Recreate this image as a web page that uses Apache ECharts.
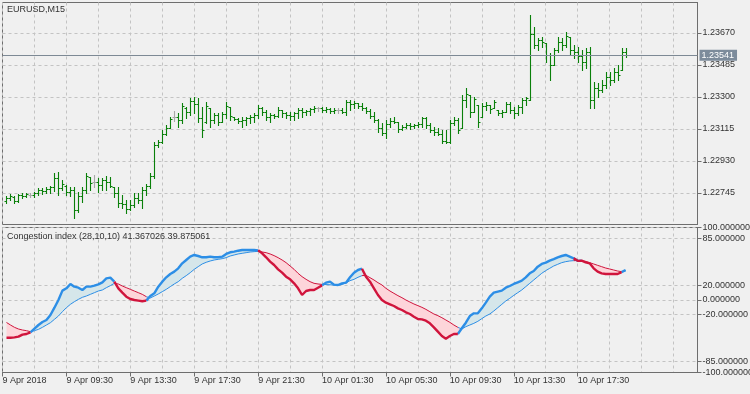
<!DOCTYPE html>
<html><head><meta charset="utf-8">
<script src="https://cdn.jsdelivr.net/npm/echarts@6/dist/echarts.min.js"></script>
<style>html,body{margin:0;padding:0;background:#f0f0f0}#c{width:750px;height:394px}</style>
</head><body><div id="c"></div><script>
const symbolName = 'EURUSD,M15';
const indicatorName = 'Congestion index (28,10,10)';
const tickLabels = ['9 Apr 2018','9 Apr 09:30','9 Apr 13:30','9 Apr 17:30','9 Apr 21:30','10 Apr 01:30','10 Apr 05:30','10 Apr 09:30','10 Apr 13:30','10 Apr 17:30'];
const priceTicks = [1.22745, 1.22930, 1.23115, 1.23300, 1.23485, 1.23670];
const indicatorTicks = [100, 85, 20, 0, -20, -85, -100];

const open = [1.22699,1.22716,1.22722,1.22699,1.22733,1.22728,1.22733,1.22733,1.22745,1.22762,
1.22757,1.22768,1.22780,1.22832,1.22774,1.22785,1.22751,1.22762,1.22647,1.22728,
1.22762,1.22837,1.22809,1.22809,1.22791,1.22820,1.22809,1.22780,1.22745,1.22687,
1.22681,1.22652,1.22676,1.22716,1.22705,1.22762,1.22785,1.22843,1.23022,1.23040,
1.23086,1.23121,1.23184,1.23184,1.23167,1.23236,1.23213,1.23277,1.23260,1.23179,
1.23155,1.23236,1.23167,1.23196,1.23155,1.23202,1.23242,1.23184,1.23173,1.23161,
1.23167,1.23179,1.23184,1.23196,1.23236,1.23213,1.23184,1.23196,1.23190,1.23225,
1.23208,1.23196,1.23190,1.23208,1.23225,1.23213,1.23219,1.23231,1.23236,1.23236,
1.23225,1.23231,1.23219,1.23225,1.23225,1.23213,1.23271,1.23260,1.23265,1.23248,
1.23236,1.23219,1.23190,1.23167,1.23121,1.23092,1.23144,1.23161,1.23155,1.23115,
1.23126,1.23138,1.23132,1.23138,1.23144,1.23179,1.23138,1.23109,1.23098,1.23086,
1.23046,1.23040,1.23150,1.23167,1.23121,1.23283,1.23312,1.23213,1.23254,1.23184,
1.23248,1.23254,1.23236,1.23225,1.23208,1.23213,1.23260,1.23225,1.23208,1.23242,
1.23283,1.23283,1.23664,1.23601,1.23630,1.23612,1.23543,1.23485,1.23572,1.23618,
1.23601,1.23647,1.23572,1.23560,1.23537,1.23502,1.23560,1.23283,1.23352,1.23340,
1.23369,1.23416,1.23398,1.23445,1.23456,1.23560];
const high = [1.22728,1.22739,1.22728,1.22739,1.22745,1.22745,1.22745,1.22751,1.22774,1.22774,
1.22780,1.22785,1.22861,1.22866,1.22820,1.22791,1.22780,1.22780,1.22751,1.22780,
1.22861,1.22837,1.22849,1.22832,1.22832,1.22843,1.22837,1.22780,1.22780,1.22733,
1.22705,1.22705,1.22745,1.22745,1.22780,1.22797,1.22861,1.23040,1.23051,1.23109,
1.23138,1.23184,1.23219,1.23208,1.23265,1.23242,1.23294,1.23300,1.23294,1.23242,
1.23271,1.23236,1.23208,1.23208,1.23213,1.23271,1.23242,1.23184,1.23179,1.23184,
1.23184,1.23196,1.23208,1.23254,1.23242,1.23225,1.23208,1.23202,1.23242,1.23225,
1.23213,1.23213,1.23213,1.23236,1.23236,1.23225,1.23236,1.23248,1.23242,1.23242,
1.23242,1.23236,1.23236,1.23236,1.23236,1.23283,1.23283,1.23277,1.23265,1.23265,
1.23242,1.23231,1.23213,1.23173,1.23150,1.23167,1.23179,1.23184,1.23155,1.23138,
1.23150,1.23150,1.23144,1.23155,1.23184,1.23184,1.23150,1.23126,1.23121,1.23109,
1.23109,1.23167,1.23184,1.23179,1.23312,1.23352,1.23312,1.23300,1.23254,1.23265,
1.23271,1.23254,1.23283,1.23225,1.23225,1.23271,1.23271,1.23242,1.23254,1.23294,
1.23300,1.23774,1.23705,1.23641,1.23647,1.23612,1.23554,1.23583,1.23647,1.23641,
1.23676,1.23647,1.23601,1.23589,1.23572,1.23583,1.23589,1.23387,1.23381,1.23398,
1.23445,1.23445,1.23468,1.23485,1.23583,1.23583];
const low = [1.22687,1.22705,1.22687,1.22693,1.22716,1.22722,1.22722,1.22722,1.22733,1.22739,
1.22745,1.22745,1.22757,1.22733,1.22762,1.22733,1.22728,1.22600,1.22635,1.22693,
1.22745,1.22762,1.22780,1.22751,1.22762,1.22762,1.22780,1.22722,1.22664,1.22658,
1.22629,1.22647,1.22664,1.22687,1.22658,1.22733,1.22774,1.22832,1.23011,1.23034,
1.23080,1.23121,1.23161,1.23126,1.23150,1.23179,1.23196,1.23208,1.23155,1.23069,
1.23150,1.23126,1.23150,1.23138,1.23155,1.23179,1.23167,1.23167,1.23150,1.23126,
1.23138,1.23150,1.23155,1.23179,1.23196,1.23167,1.23155,1.23179,1.23184,1.23184,
1.23179,1.23167,1.23167,1.23179,1.23184,1.23196,1.23196,1.23213,1.23219,1.23213,
1.23213,1.23208,1.23208,1.23208,1.23208,1.23196,1.23225,1.23236,1.23236,1.23225,
1.23208,1.23179,1.23155,1.23098,1.23080,1.23063,1.23126,1.23150,1.23098,1.23109,
1.23121,1.23115,1.23121,1.23126,1.23126,1.23121,1.23098,1.23080,1.23080,1.23034,
1.23034,1.23034,1.23138,1.23092,1.23121,1.23242,1.23184,1.23213,1.23126,1.23184,
1.23225,1.23208,1.23236,1.23196,1.23184,1.23213,1.23208,1.23179,1.23196,1.23208,
1.23254,1.23283,1.23583,1.23572,1.23589,1.23502,1.23398,1.23485,1.23560,1.23572,
1.23589,1.23543,1.23525,1.23502,1.23456,1.23468,1.23236,1.23236,1.23300,1.23329,
1.23352,1.23369,1.23387,1.23398,1.23456,1.23531];
const close = [1.22716,1.22728,1.22699,1.22733,1.22728,1.22739,1.22733,1.22745,1.22762,1.22757,
1.22768,1.22780,1.22832,1.22774,1.22797,1.22751,1.22762,1.22647,1.22728,1.22762,
1.22843,1.22803,1.22809,1.22791,1.22820,1.22809,1.22785,1.22745,1.22687,1.22681,
1.22652,1.22676,1.22716,1.22705,1.22762,1.22785,1.22843,1.23022,1.23040,1.23086,
1.23121,1.23173,1.23184,1.23167,1.23248,1.23213,1.23277,1.23260,1.23179,1.23109,
1.23248,1.23167,1.23196,1.23155,1.23202,1.23248,1.23190,1.23173,1.23161,1.23167,
1.23179,1.23184,1.23196,1.23236,1.23213,1.23184,1.23196,1.23190,1.23225,1.23208,
1.23196,1.23190,1.23208,1.23225,1.23213,1.23219,1.23231,1.23236,1.23236,1.23225,
1.23231,1.23219,1.23225,1.23225,1.23213,1.23271,1.23260,1.23265,1.23248,1.23236,
1.23219,1.23190,1.23167,1.23121,1.23092,1.23144,1.23161,1.23155,1.23115,1.23126,
1.23138,1.23132,1.23138,1.23144,1.23179,1.23138,1.23109,1.23098,1.23086,1.23046,
1.23040,1.23150,1.23167,1.23109,1.23283,1.23317,1.23213,1.23288,1.23155,1.23248,
1.23254,1.23231,1.23271,1.23208,1.23213,1.23260,1.23225,1.23208,1.23242,1.23283,
1.23294,1.23664,1.23601,1.23630,1.23618,1.23543,1.23485,1.23572,1.23618,1.23601,
1.23653,1.23572,1.23560,1.23537,1.23502,1.23560,1.23283,1.23352,1.23340,1.23369,
1.23416,1.23398,1.23445,1.23427,1.23560,1.23541];

const mainLine = [-52,-52,-51.5,-50.6,-47.8,-46.9,-44.6,-39.5,-34.5,-30.3,
-27.6,-20.7,-10.6,0,12.9,16.1,22.1,18.4,17,13.8,
18.4,18.4,19.8,21.6,24.4,29.9,30.8,25.3,16.1,10.1,
4.6,1.4,0,-0.9,-1.8,-0.9,5.5,9.2,18.4,25.3,
31.3,35.9,39.1,43.7,50.6,55.2,59.8,62.1,60.7,58.9,
58.9,59.8,58.9,58.9,59.8,63.5,65.8,66.7,68.0,69,
69,69,69,68.5,64.4,58.9,52.9,48.3,42.3,37.7,
32.2,28.5,23,16.1,6.9,12.4,13.8,13.8,17,20.2,
23.9,25.3,21.2,20.7,23,23.9,31.3,37.7,41.4,43.2,
32.2,25.3,16.1,6.9,0,-3.7,-6,-8.3,-11.5,-13.8,
-17,-19.3,-23,-26.2,-26.7,-28.5,-32.2,-37.7,-43.7,-49.7,
-53.3,-49.7,-46.9,-46.9,-39,-31.3,-22.1,-18.4,-18.4,-11.5,
-3.7,4.6,10.1,11.5,12.9,17,19.3,22.1,24.4,26.7,
31.3,36.8,40,46,49.7,51.5,54.3,56.5,58.9,60.7,
62.1,59.8,57.5,54.0,54.3,52,50.6,43.7,39.1,36.8,
35.9,35.9,35.9,35.9,38.5,41.367026];
const signalLine = [-31,-34.5,-37.7,-40,-41.4,-42.3,-43.7,-42.3,-40.5,-37.7,
-34.5,-31.3,-26.7,-22.1,-16.1,-10.6,-6,-2.3,0.9,3.7,
5.5,7.8,10.1,12.4,13.8,17,19.8,23,22.1,19.3,
17,14.7,12.4,10.1,7.8,4.6,2.8,5.5,8.3,11.5,
14.7,18.4,22.1,25.3,29.9,33.6,37.7,42.3,46,49.7,
52,53.8,55.2,56.1,57,58.4,60.7,62.1,63.5,64.4,
65.3,66.2,66.7,67.1,66.2,65.3,63.5,61.2,58.4,55.2,
51.5,46.9,42.3,36.8,32.2,28.5,25.3,23,22.1,21.5,
21.3,21,20.5,20.3,21.5,23.5,26.7,28.5,31.3,33.6,
34,30.8,27.6,23.9,20.7,16.1,12.4,9.2,6,3.2,
0,-2.8,-5.5,-7.8,-10.1,-12.9,-16.1,-19.3,-21.6,-24.4,
-27.6,-30.8,-34.5,-37.7,-40,-36.8,-34.5,-32.2,-29.4,-25.7,
-22.1,-19.3,-15.2,-10.6,-6,-1.4,2.3,6.4,10.1,13.8,
18.4,23,27.6,32.2,36.8,40.5,43.7,46.9,49.2,51.5,
52.9,53.8,54.3,54.5,54.0,53.3,51.5,49.7,47.8,46,
44.1,42.8,41.4,40,39.1,39.875061];

// ---- layout / style ----
const N_SLOTS = 175;               // time slots on the x axis (bars + right shift)
const slots = Array.from({length: N_SLOTS}, (_, i) => String(i));
const slotOf = k => k + 1;
const FONT = '"Liberation Sans", Arial, sans-serif';
const textColor = '#333333';
const gridColor = '#c3c3c3';
const borderColor = '#6e6e6e';
const barColor = '#0a800a';
const dojiColor = '#a8a8a8';
const upColor = '#2c8ee6';
const dnColor = '#d0143c';
const upFill = '#d5e6ea';
const dnFill = '#fdd5da';
const priceMin = 1.22563, priceMax = 1.23846;

const bars = open.map((o, k) => [slotOf(k), o, high[k], low[k], close[k]]);
const lastPrice = close[close.length - 1];

const state = mainLine.map((m, k) => m >= signalLine[k]);
function toSlots(values) {
  const out = new Array(N_SLOTS).fill(null);
  values.forEach((v, k) => { out[slotOf(k)] = v; });
  return out;
}
function splitBy(values, want) {
  const out = new Array(N_SLOTS).fill(null);
  values.forEach((v, k) => {
    if (state[k] === want || (k + 1 < values.length && state[k + 1] === want)) out[slotOf(k)] = v;
  });
  return out;
}
const baseVals = toSlots(mainLine.map((m, k) => Math.min(m, signalLine[k])));
const upBand = toSlots(mainLine.map((m, k) => Math.max(m - signalLine[k], 0)));
const dnBand = toSlots(mainLine.map((m, k) => Math.max(signalLine[k] - m, 0)));

const lineBase = {type: 'line', xAxisIndex: 1, yAxisIndex: 1, symbol: 'none', silent: true, animation: false};
const labelIdx = (i) => i % 16 === 0 && i / 16 < tickLabels.length;
const gridIdx = (i) => i % 8 === 0;
const dashed = {color: gridColor, type: [3, 3], width: 1};
const titleStyle = {fontSize: 9, fontWeight: 'normal', color: textColor, fontFamily: FONT};

const option = {
  backgroundColor: '#f0f0f0',
  animation: false,
  title: [
    {text: symbolName, left: 7, top: 5, padding: 0, textStyle: titleStyle},
    {text: indicatorName + ' ' + mainLine[mainLine.length - 1].toFixed(6) + ' ' + signalLine[signalLine.length - 1].toFixed(6),
     left: 7, top: 232, padding: 0, textStyle: titleStyle}
  ],
  grid: [
    {left: 2.5, top: 2.5, width: 695, height: 222, show: true, borderColor: borderColor, borderWidth: 1, backgroundColor: 'transparent', outerBoundsMode: 'none'},
    {left: 2.5, top: 227.5, width: 695, height: 145, show: true, borderColor: borderColor, borderWidth: 1, backgroundColor: 'transparent', outerBoundsMode: 'none'}
  ],
  xAxis: [
    {gridIndex: 0, type: 'category', data: slots, boundaryGap: false,
     axisLine: {show: false, onZero: false}, axisTick: {show: false}, axisLabel: {show: false},
     splitLine: {show: true, interval: gridIdx, lineStyle: dashed}},
    {gridIndex: 1, type: 'category', data: slots, boundaryGap: false, position: 'bottom',
     axisLine: {show: true, onZero: false, lineStyle: {color: borderColor}},
     axisTick: {show: true, interval: labelIdx, length: 4, lineStyle: {color: borderColor}},
     axisLabel: {show: true, interval: labelIdx, formatter: (v, i) => tickLabels[i / 16] || '',
                 align: 'left', margin: 4, fontSize: 9, color: textColor, fontFamily: FONT},
     splitLine: {show: true, interval: gridIdx, lineStyle: dashed}}
  ],
  yAxis: [
    {gridIndex: 0, type: 'value', position: 'right', min: priceMin, max: priceMax, scale: true,
     axisLine: {show: true, lineStyle: {color: borderColor}},
     axisTick: {show: true, length: 4, customValues: priceTicks, lineStyle: {color: borderColor}},
     axisLabel: {customValues: priceTicks, formatter: v => Number(v).toFixed(5), margin: 5, fontSize: 9, color: textColor, fontFamily: FONT},
     splitLine: {show: true, lineStyle: dashed}},
    {gridIndex: 1, type: 'value', position: 'right', min: -100, max: 100,
     axisLine: {show: true, lineStyle: {color: borderColor}},
     axisTick: {show: true, length: 4, customValues: indicatorTicks, lineStyle: {color: borderColor}},
     axisLabel: {customValues: indicatorTicks, formatter: v => Number(v).toFixed(6), margin: 5, fontSize: 9, color: textColor, fontFamily: FONT},
     splitLine: {show: true, lineStyle: dashed}}
  ],
  series: [
    {type: 'custom', xAxisIndex: 0, yAxisIndex: 0, data: bars, silent: true, animation: false,
     encode: {x: 0, y: [1, 2, 3, 4]}, clip: true,
     renderItem(params, api) {
       const s = api.value(0);
       const o = api.value(1), h = api.value(2), l = api.value(3), c = api.value(4);
       const pH = api.coord([s, h]), pL = api.coord([s, l]);
       const pO = api.coord([s, o]), pC = api.coord([s, c]);
       const x = Math.round(pH[0]) + 0.5;
       const col = o === c ? dojiColor : barColor;
       const st = {stroke: col, lineWidth: 1.1};
       const yO = Math.round(pO[1]) + 0.5, yC = Math.round(pC[1]) + 0.5;
       return {type: 'group', children: [
         {type: 'line', shape: {x1: x, y1: Math.round(pH[1]), x2: x, y2: Math.round(pL[1]) + 1}, style: st},
         {type: 'line', shape: {x1: x - 2, y1: yO, x2: x - 0.5, y2: yO}, style: st},
         {type: 'line', shape: {x1: x + 0.5, y1: yC, x2: x + 2, y2: yC}, style: st}
       ]};
     }
    },
    {type: 'line', name: 'priceLine', xAxisIndex: 0, yAxisIndex: 0, data: [], symbol: 'none', silent: true, animation: false,
     z: 1,
     markLine: {silent: true, symbol: ['none', 'none'], animation: false, precision: 5,
       lineStyle: {color: '#7d8995', type: 'solid', width: 1, opacity: 1},
       label: {show: true, position: 'end', distance: 2, formatter: p => Number(p.value).toFixed(5),
               backgroundColor: '#7c8b9b', color: '#ffffff', padding: [1, 3, 1, 2], fontSize: 9, fontFamily: FONT, opacity: 1},
       data: [{yAxis: lastPrice}]}
    },
    Object.assign({}, lineBase, {data: baseVals, stack: 'up', stackStrategy: 'all', lineStyle: {opacity: 0}}),
    Object.assign({}, lineBase, {data: upBand, stack: 'up', stackStrategy: 'all', lineStyle: {opacity: 0}, areaStyle: {color: upFill, opacity: 1}}),
    Object.assign({}, lineBase, {data: baseVals, stack: 'dn', stackStrategy: 'all', lineStyle: {opacity: 0}}),
    Object.assign({}, lineBase, {data: dnBand, stack: 'dn', stackStrategy: 'all', lineStyle: {opacity: 0}, areaStyle: {color: dnFill, opacity: 1}}),
    Object.assign({}, lineBase, {data: splitBy(signalLine, true), lineStyle: {color: upColor, width: 1}}),
    Object.assign({}, lineBase, {data: splitBy(signalLine, false), lineStyle: {color: dnColor, width: 1}}),
    Object.assign({}, lineBase, {data: splitBy(mainLine, true), lineStyle: {color: upColor, width: 2.4}}),
    Object.assign({}, lineBase, {data: splitBy(mainLine, false), lineStyle: {color: dnColor, width: 2.4}})
  ]
};
const chart = echarts.init(document.getElementById('c'));
chart.setOption(option);
</script></body></html>
